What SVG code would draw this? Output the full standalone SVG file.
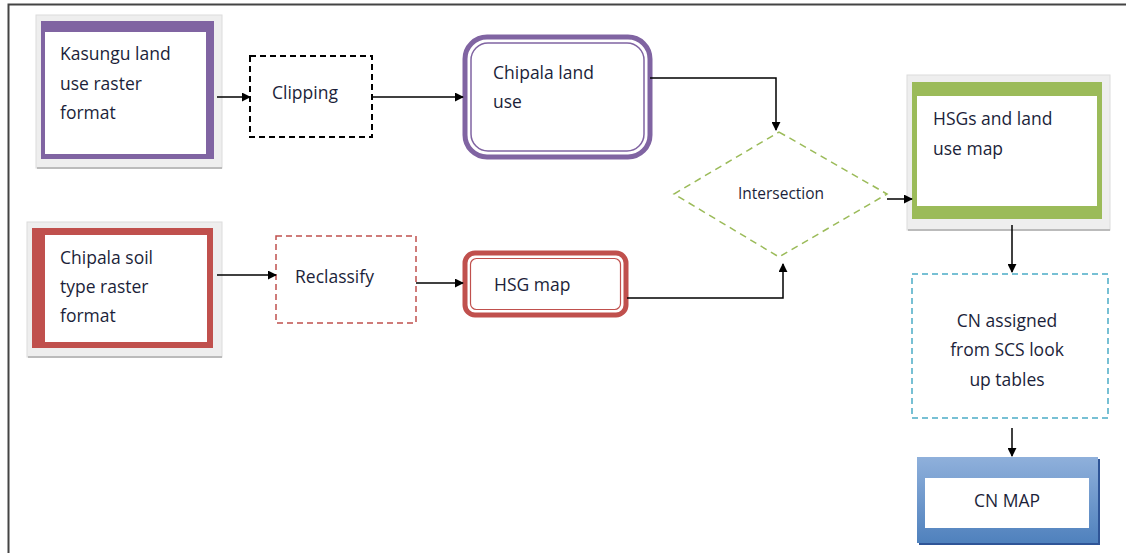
<svg xmlns="http://www.w3.org/2000/svg" width="1126" height="553" viewBox="0 0 1126 553">
<defs>
<style>
text{font-family:"Open Sans","Liberation Sans",sans-serif;font-size:17.5px;fill:#1c1f3a}
.c{text-anchor:middle}
.conn{fill:none;stroke:#000;stroke-width:1.5}
.shadow{fill:#eeeeee;stroke:#dcdcdc;stroke-width:1}
</style>
<marker id="ah" viewBox="0 0 10 10" refX="9" refY="5" markerWidth="9" markerHeight="9" markerUnits="userSpaceOnUse" orient="auto"><path d="M0,0 L10,5 L0,10 z" fill="#000"/></marker>
<linearGradient id="blue" x1="0" y1="0" x2="0" y2="1"><stop offset="0" stop-color="#8fb0db"/><stop offset="1" stop-color="#4f81bd"/></linearGradient>
</defs>
<rect x="0" y="0" width="1126" height="553" fill="#fff"/>
<path d="M8.5,553 V4.5 H1126" fill="none" stroke="#444" stroke-width="2"/>

<g id="kasungu">
<rect class="shadow" x="36" y="15" width="186" height="153"/>
<line x1="37" y1="168" x2="222" y2="168" stroke="#bbb" stroke-width="2"/>
<rect x="41" y="21" width="173" height="138" fill="#8064a2"/>
<rect x="45" y="32" width="161" height="122" fill="#fff"/>
<text x="60" y="60">Kasungu land</text>
<text x="60" y="90">use raster</text>
<text x="60" y="119">format</text>
</g>

<g id="clipping">
<rect x="250" y="56" width="122" height="81" fill="#fff" stroke="#000" stroke-width="2" stroke-dasharray="6,4"/>
<text x="272" y="99">Clipping</text>
</g>

<g id="chipala-land-use">
<rect x="465" y="37" width="185" height="120" rx="22" fill="#fff" stroke="#8064a2" stroke-width="5"/>
<rect x="471" y="43" width="173" height="108" rx="17" fill="none" stroke="#8064a2" stroke-width="1.5"/>
<text x="493" y="79">Chipala land</text>
<text x="493" y="108">use</text>
</g>

<g id="chipala-soil">
<rect class="shadow" x="27" y="222" width="195" height="135"/>
<line x1="28" y1="357" x2="222" y2="357" stroke="#bbb" stroke-width="2"/>
<rect x="32" y="228" width="181" height="120" fill="#c0504d"/>
<rect x="45" y="235" width="162" height="107" fill="#fff"/>
<text x="60" y="264">Chipala soil</text>
<text x="60" y="293">type raster</text>
<text x="60" y="322">format</text>
</g>

<g id="reclassify">
<rect x="276" y="236" width="140" height="87" fill="#fff" stroke="#c0504d" stroke-width="1.5" stroke-dasharray="6,4"/>
<text x="295" y="283">Reclassify</text>
</g>

<g id="hsg-map">
<rect x="465" y="253" width="161" height="62" rx="10" fill="#fff" stroke="#c0504d" stroke-width="5"/>
<rect x="470.5" y="258.5" width="150" height="51" rx="6" fill="none" stroke="#c0504d" stroke-width="1.2"/>
<text x="494" y="291">HSG map</text>
</g>

<g id="intersection">
<polygon points="779,132 887,194 779,257 674,194" fill="#fff" stroke="#9bbb59" stroke-width="1.5" stroke-dasharray="7,5"/>
<text class="c" x="781" y="199" style="font-size:15.5px">Intersection</text>
</g>

<g id="hsgs-landuse">
<rect class="shadow" x="907" y="75" width="203" height="155"/>
<line x1="908" y1="230" x2="1110" y2="230" stroke="#bbb" stroke-width="2"/>
<rect x="912" y="82" width="190" height="137" fill="#9bbb59"/>
<rect x="917" y="96" width="180" height="110" fill="#fff"/>
<text x="933" y="125">HSGs and land</text>
<text x="933" y="155">use map</text>
</g>

<g id="cn-assigned">
<rect x="912" y="274" width="196" height="144" fill="#fff" stroke="#4bacc6" stroke-width="1.5" stroke-dasharray="6,4"/>
<text class="c" x="1007" y="327">CN assigned</text>
<text class="c" x="1007" y="356">from SCS look</text>
<text class="c" x="1007" y="386">up tables</text>
</g>

<g id="cn-map">
<rect x="919" y="459" width="181" height="86" fill="#2f5597"/>
<rect x="917" y="457" width="181" height="86" fill="url(#blue)"/>
<rect x="925" y="478" width="164" height="50" fill="#fff"/>
<text class="c" x="1007" y="507">CN MAP</text>
</g>

<g id="connectors">
<line class="conn" x1="217" y1="97" x2="250" y2="97" marker-end="url(#ah)"/>
<line class="conn" x1="372" y1="97" x2="463" y2="97" marker-end="url(#ah)"/>
<polyline class="conn" points="650,78 776,78 776,130" marker-end="url(#ah)"/>
<line class="conn" x1="217" y1="275" x2="276" y2="275" marker-end="url(#ah)"/>
<line class="conn" x1="416" y1="283" x2="463" y2="283" marker-end="url(#ah)"/>
<polyline class="conn" points="627,298 783,298 783,264" marker-end="url(#ah)"/>
<line class="conn" x1="887" y1="199" x2="912" y2="199" marker-end="url(#ah)"/>
<line class="conn" x1="1012" y1="225" x2="1012" y2="272" marker-end="url(#ah)"/>
<line class="conn" x1="1012" y1="428" x2="1012" y2="456" marker-end="url(#ah)"/>
</g>
</svg>
